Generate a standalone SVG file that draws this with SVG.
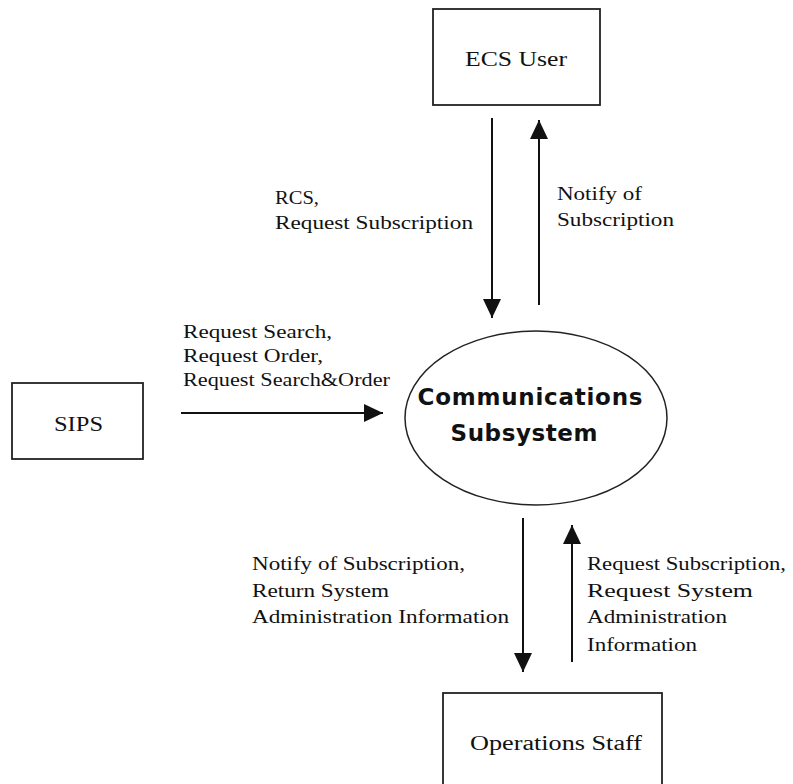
<svg xmlns="http://www.w3.org/2000/svg" width="793" height="784" viewBox="0 0 793 784">
  <style>
    .box { fill: #fff; stroke: #222; stroke-width: 1.8; }
    .hub { fill: #fff; stroke: #222; stroke-width: 1.5; }
    .lbl { font-family: "Liberation Serif", "Times New Roman", serif; font-size: 19px; fill: #111; }
    .name { font-family: "Liberation Serif", "Times New Roman", serif; font-size: 20px; fill: #111; }
    .hubtxt { font-family: "DejaVu Sans", Verdana, sans-serif; font-weight: bold; font-size: 23px; fill: #111; text-anchor: middle; }
    .flow { stroke: #111; stroke-width: 2; fill: none; marker-end: url(#head); }
  </style>
  <defs>
    <marker id="head" markerUnits="userSpaceOnUse" markerWidth="19" markerHeight="18" refX="19" refY="9" orient="auto">
      <path d="M0,0 L19,9 L0,18 Z" fill="#111"/>
    </marker>
  </defs>

  <rect width="793" height="784" fill="#fff"/>

  <!-- external entities -->
  <g id="ecs-user">
    <rect class="box" x="433" y="9" width="167" height="96"/>
    <text class="name" x="465" y="66" textLength="102" lengthAdjust="spacingAndGlyphs">ECS User</text>
  </g>

  <g id="sips">
    <rect class="box" x="12" y="383" width="131" height="76"/>
    <text class="name" x="54" y="431" textLength="49" lengthAdjust="spacingAndGlyphs">SIPS</text>
  </g>

  <g id="operations-staff">
    <rect class="box" x="443" y="693" width="219" height="110"/>
    <text class="name" x="470" y="750" textLength="172" lengthAdjust="spacingAndGlyphs">Operations Staff</text>
  </g>

  <!-- central process -->
  <g id="communications-subsystem">
    <ellipse class="hub" cx="536" cy="418" rx="131" ry="87"/>
    <text class="hubtxt" x="530" y="405" textLength="225">Communications</text>
    <text class="hubtxt" x="524" y="441" textLength="147">Subsystem</text>
  </g>

  <!-- data flows -->
  <g id="connectors">
    <line class="flow" x1="492" y1="118" x2="492" y2="318"/>
    <line class="flow" x1="539" y1="305" x2="539" y2="120"/>
    <line class="flow" x1="181" y1="413" x2="383" y2="413"/>
    <line class="flow" x1="523" y1="518" x2="523" y2="672"/>
    <line class="flow" x1="572" y1="662" x2="572" y2="525"/>
  </g>

  <!-- flow labels -->
  <g id="flow-labels">
    <text class="lbl" x="275" y="204" textLength="44" lengthAdjust="spacingAndGlyphs">RCS,</text>
    <text class="lbl" x="275" y="229" textLength="198" lengthAdjust="spacingAndGlyphs">Request Subscription</text>

    <text class="lbl" x="557" y="200" textLength="85" lengthAdjust="spacingAndGlyphs">Notify of</text>
    <text class="lbl" x="557" y="226" textLength="117" lengthAdjust="spacingAndGlyphs">Subscription</text>

    <text class="lbl" x="183" y="338" textLength="149" lengthAdjust="spacingAndGlyphs">Request Search,</text>
    <text class="lbl" x="183" y="362" textLength="140" lengthAdjust="spacingAndGlyphs">Request Order,</text>
    <text class="lbl" x="183" y="386" textLength="207" lengthAdjust="spacingAndGlyphs">Request Search&amp;Order</text>

    <text class="lbl" x="252" y="570" textLength="213" lengthAdjust="spacingAndGlyphs">Notify of Subscription,</text>
    <text class="lbl" x="252" y="597" textLength="137" lengthAdjust="spacingAndGlyphs">Return System</text>
    <text class="lbl" x="252" y="623" textLength="257" lengthAdjust="spacingAndGlyphs">Administration Information</text>

    <text class="lbl" x="587" y="570" textLength="199" lengthAdjust="spacingAndGlyphs">Request Subscription,</text>
    <text class="lbl" x="587" y="597" textLength="166" lengthAdjust="spacingAndGlyphs">Request System</text>
    <text class="lbl" x="587" y="623" textLength="140" lengthAdjust="spacingAndGlyphs">Administration</text>
    <text class="lbl" x="587" y="651" textLength="110" lengthAdjust="spacingAndGlyphs">Information</text>
  </g>
</svg>
